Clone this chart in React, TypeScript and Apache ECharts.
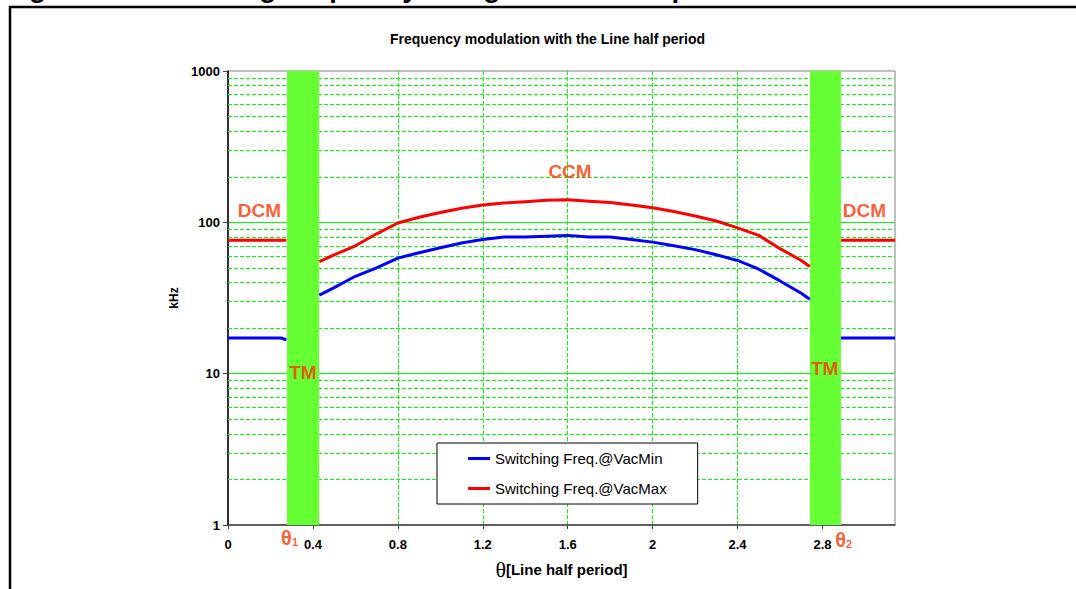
import React, { useEffect, useRef } from "react";
import * as echarts from "echarts";

// ---------- data ----------
const X_MAX = Math.PI;
const X_INTERVAL = 0.4;

// DCM flat regions (left and right of the TM bands)
const dcmLeftTheta = [0, 0.25, 0.275];
const dcmLeftVacMin = [17.2, 17.2, 16.7];
const dcmLeftVacMax = [76, 76, 76];
const dcmRightTheta = [2.887, 3.0, 3.1416];
const dcmRightVacMin = [17.2, 17.2, 17.2];
const dcmRightVacMax = [76, 76, 76];

// CCM curved region
const ccmTheta = [0.43, 0.5, 0.6, 0.7, 0.8, 0.9, 1.0, 1.1, 1.2, 1.3, 1.4, 1.5, 1.6, 1.7, 1.8, 1.9, 2.0, 2.1, 2.2, 2.3, 2.4, 2.5, 2.6, 2.7, 2.74];
const ccmVacMax = [55, 61, 70, 84, 99, 108, 116, 124, 130, 134, 137, 140, 141, 138, 135, 130, 125, 118, 110, 102, 92, 82, 67, 56, 51];
const ccmVacMin = [33, 37, 44, 50, 58, 63, 68, 73, 77, 80, 80, 81, 82, 80, 80, 77, 74, 70, 66, 61, 56, 49, 41, 34, 31];

// TM bands (theta ranges)
const tmBand1 = [0.278, 0.429];
const tmBand2 = [2.741, 2.887];

// minor log grid values
const minorGridValues = [2, 3, 4, 5, 6, 7, 8, 9, 20, 30, 40, 50, 60, 70, 80, 90, 200, 300, 400, 500, 600, 700, 800, 900];

// annotation labels: [theta, kHz, text]
const annotations: [number, number, string][] = [
  [1.611, 218, "CCM"],
  [0.148, 120, "DCM"],
  [2.998, 120, "DCM"],
  [0.353, 10.2, "TM"],
  [2.81, 10.9, "TM"],
];
const thetaMarks: [number, number, string][] = [
  [0.29, 0.82, "{t|θ}{s|1}"],
  [2.9, 0.8, "{t|θ}{s|2}"],
];

const SERIES_MIN = "Switching Freq.@VacMin";
const SERIES_MAX = "Switching Freq.@VacMax";

const ANNOT_COLOR = "#ff3300";
const FONT = "'Liberation Sans', Arial, sans-serif";

function buildSeriesData(
  lt: number[], lv: number[], ct: number[], cv: number[], rt: number[], rv: number[]
) {
  const d: (number | null)[][] = [];
  lt.forEach((t, i) => d.push([t, lv[i]]));
  d.push([(lt[lt.length - 1] + ct[0]) / 2, null]);
  ct.forEach((t, i) => d.push([t, cv[i]]));
  d.push([(ct[ct.length - 1] + rt[0]) / 2, null]);
  rt.forEach((t, i) => d.push([t, rv[i]]));
  return d;
}

export default function App() {
  const ref = useRef<HTMLDivElement>(null);

  useEffect(() => {
    if (!ref.current) return;
    const chart = echarts.init(ref.current, null, { renderer: "svg" });

    const vacMinData = buildSeriesData(dcmLeftTheta, dcmLeftVacMin, ccmTheta, ccmVacMin, dcmRightTheta, dcmRightVacMin);
    const vacMaxData = buildSeriesData(dcmLeftTheta, dcmLeftVacMax, ccmTheta, ccmVacMax, dcmRightTheta, dcmRightVacMax);

    const option: any = {
      animation: false,
      backgroundColor: "#ffffff",
      textStyle: { fontFamily: FONT },
      title: {
        text: "Frequency modulation with the Line half period",
        left: 390,
        top: 32,
        padding: 0,
        textStyle: { fontSize: 14, fontWeight: "bold", color: "#000", fontFamily: FONT },
      },
      graphic: [
        {
          type: "text",
          left: 4,
          top: -27,
          silent: true,
          style: {
            text: "Figure 13. Switching frequency along the line half period",
            font: "bold 28px 'Liberation Sans', Arial, sans-serif",
            fill: "#000",
          },
        },
        { type: "line", silent: true, shape: { x1: 9, y1: 7, x2: 1076, y2: 7 }, style: { stroke: "#000", lineWidth: 2.5 } },
        { type: "line", silent: true, shape: { x1: 10, y1: 6, x2: 10, y2: 589 }, style: { stroke: "#000", lineWidth: 2.5 } },
      ],
      legend: {
        data: [SERIES_MIN, SERIES_MAX],
        orient: "vertical",
        left: 437,
        top: 443,
        padding: [8, 31, 8, 31],
        itemGap: 15,
        itemWidth: 22,
        itemHeight: 3,
        icon: "rect",
        backgroundColor: "#fff",
        borderColor: "#000",
        borderWidth: 1,
        textStyle: { fontSize: 15, color: "#000", fontFamily: FONT },
      },
      grid: {
        left: 228,
        top: 71,
        right: 181,
        bottom: 64,
        show: true,
        borderColor: "#808080",
        borderWidth: 1,
        backgroundColor: "transparent",
      },
      xAxis: {
        type: "value",
        min: 0,
        max: X_MAX,
        interval: X_INTERVAL,
        name: "{t|θ}{b|[Line half period]}",
        nameLocation: "middle",
        nameGap: 33,
        nameTextStyle: {
          rich: {
            t: { fontSize: 22, fontFamily: "'Liberation Serif', 'DejaVu Serif', serif", color: "#000" },
            b: { fontSize: 15, fontWeight: "bold", fontFamily: FONT, color: "#000" },
          },
        },
        axisLine: { show: true, lineStyle: { color: "#404040", width: 1.5 } },
        axisTick: { show: true, inside: false, length: 4, lineStyle: { color: "#404040" } },
        axisLabel: {
          margin: 13,
          fontSize: 13,
          fontWeight: "bold",
          color: "#000",
          fontFamily: FONT,
          showMaxLabel: false,
        },
        splitLine: {
          show: true,
          showMinLine: false,
          showMaxLine: false,
          lineStyle: { color: "#00ff00", type: "dashed", width: 1 },
        },
      },
      yAxis: {
        type: "log",
        logBase: 10,
        min: 1,
        max: 1000,
        name: "kHz",
        nameLocation: "middle",
        nameGap: 44,
        nameTextStyle: { fontSize: 12, fontWeight: "bold", color: "#000", fontFamily: FONT },
        axisLine: { show: true, lineStyle: { color: "#000", width: 1.5 } },
        axisTick: { show: true, inside: false, length: 5, lineStyle: { color: "#404040" } },
        axisLabel: {
          margin: 8,
          fontSize: 13,
          fontWeight: "bold",
          color: "#000",
          fontFamily: FONT,
          formatter: (v: number) => String(Math.round(v)),
        },
        splitLine: {
          show: true,
          showMinLine: false,
          showMaxLine: false,
          lineStyle: { color: "#00ff00", width: 1 },
        },
        minorTick: { show: false },
        minorSplitLine: { show: false },
      },
      series: [
        {
          name: "grid-minor",
          type: "line",
          data: [],
          silent: true,
          z: 1,
          markLine: {
            silent: true,
            z: 1,
            symbol: ["none", "none"],
            label: { show: false },
            emphasis: { disabled: true },
            lineStyle: { color: "#00ff00", type: "dashed", width: 1, opacity: 1 },
            data: minorGridValues.map((v) => ({ yAxis: v })),
          },
        },
        {
          name: "tm-bands",
          type: "line",
          data: [],
          silent: true,
          z: 3,
          markArea: {
            silent: true,
            z: 3,
            itemStyle: { color: "#66ff33", opacity: 1 },
            label: { show: false },
            data: [
              [{ xAxis: tmBand1[0] }, { xAxis: tmBand1[1] }],
              [{ xAxis: tmBand2[0] }, { xAxis: tmBand2[1] }],
            ],
          },
        },
        {
          name: SERIES_MIN,
          type: "line",
          z: 5,
          data: vacMinData,
          showSymbol: false,
          symbol: "none",
          connectNulls: false,
          lineStyle: { color: "#0000ff", width: 3 },
          itemStyle: { color: "#0000ff" },
        },
        {
          name: SERIES_MAX,
          type: "line",
          z: 5,
          data: vacMaxData,
          showSymbol: false,
          symbol: "none",
          connectNulls: false,
          lineStyle: { color: "#ff0000", width: 3 },
          itemStyle: { color: "#ff0000" },
        },
        {
          name: "annotations",
          type: "scatter",
          z: 6,
          silent: true,
          clip: false,
          symbolSize: 0,
          data: annotations.map(([x, y, t]) => ({
            value: [x, y],
            label: {
              show: true,
              position: "inside",
              formatter: t,
              fontSize: 19,
              fontWeight: "bold",
              color: ANNOT_COLOR,
              fontFamily: FONT,
            },
          })),
        },
        {
          name: "theta-marks",
          type: "scatter",
          z: 6,
          silent: true,
          clip: false,
          symbolSize: 0,
          data: thetaMarks.map(([x, y, t]) => ({
            value: [x, y],
            label: {
              show: true,
              position: "inside",
              formatter: t,
              rich: {
                t: { fontSize: 20, fontWeight: "bold", color: ANNOT_COLOR, fontFamily: FONT },
                s: { fontSize: 11, fontWeight: "bold", color: ANNOT_COLOR, fontFamily: FONT, padding: [8, 0, 0, 0] },
              },
            },
          })),
        },
      ],
    };

    chart.setOption(option);
    return () => chart.dispose();
  }, []);

  return (
    <div
      ref={ref}
      style={{ position: "fixed", left: 0, top: 0, width: 1076, height: 589, background: "#fff" }}
    />
  );
}
